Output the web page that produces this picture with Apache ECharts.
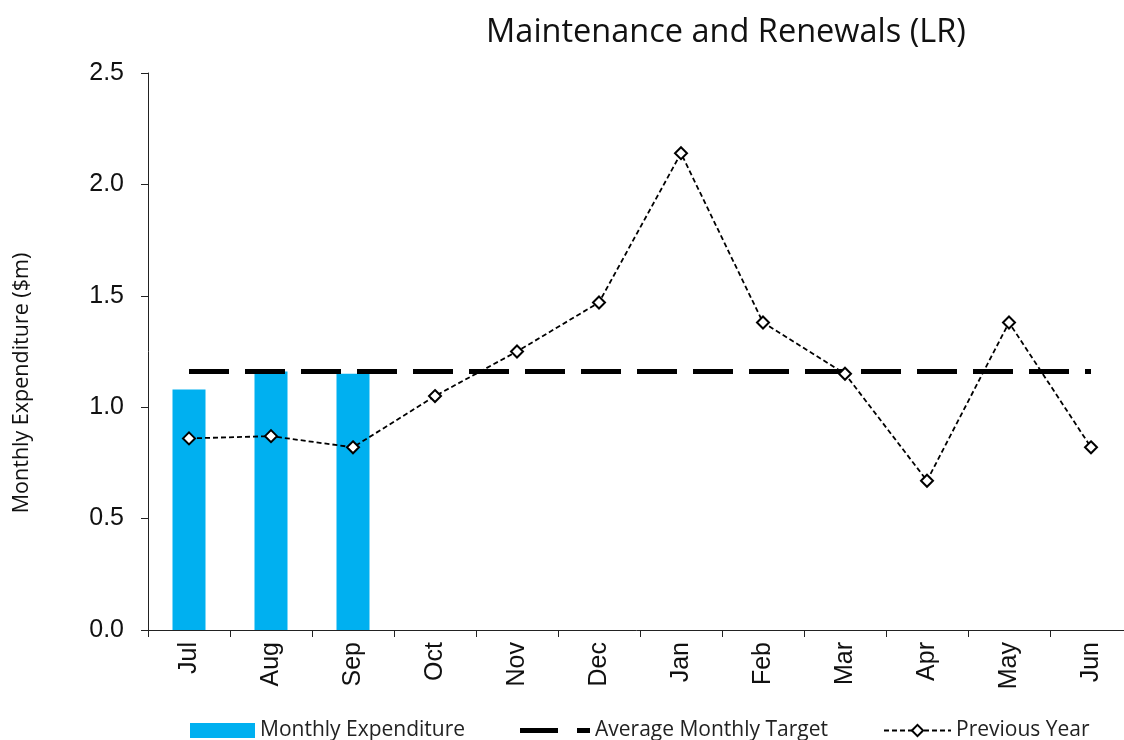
<!DOCTYPE html>
<html>
<head>
<meta charset="utf-8">
<title>Maintenance and Renewals (LR)</title>
<script src="https://cdn.jsdelivr.net/npm/echarts@6/dist/echarts.min.js"></script>
<style>
  html, body { margin: 0; padding: 0; background: #fff; }
  #chart { width: 1124px; height: 740px; }
</style>
</head>
<body>
<div id="chart"></div>
<script>
// categories and values
const months = ['Jul', 'Aug', 'Sep', 'Oct', 'Nov', 'Dec', 'Jan', 'Feb', 'Mar', 'Apr', 'May', 'Jun']
const monthlyExpenditure = [1.08, 1.16, 1.15]
const averageTarget = [1.16, 1.16, 1.16, 1.16, 1.16, 1.16, 1.16, 1.16, 1.16, 1.16, 1.16, 1.16]
const previousYear = [0.86, 0.87, 0.82, 1.05, 1.25, 1.47, 2.14, 1.38, 1.15, 0.67, 1.38, 0.82]
const yTicks = [0, 0.5, 1.0, 1.5, 2.0, 2.5]

const chart = echarts.init(document.getElementById('chart'))

// legend text style shared by the three legend blocks
const legendText = {
  fontFamily: '"Liberation Sans Narrow", "Open Sans", sans-serif',
  fontSize: 21,
  color: '#222',
}

chart.setOption({
  animation: false,
  title: {
    text: 'Maintenance and Renewals (LR)',
    left: 721,
    top: 11,
    textAlign: 'center',
    textStyle: {
      fontFamily: '"Open Sans", sans-serif',
      fontWeight: 'normal',
      fontSize: 32.5,
      color: '#111',
    },
  },
  // y axis title sits a bit below the middle of the axis in the original
  graphic: [
    {
      type: 'text',
      x: 22,
      y: 383,
      rotation: Math.PI / 2,
      style: {
        text: 'Monthly Expenditure ($m)',
        align: 'center',
        verticalAlign: 'middle',
        fontFamily: '"Open Sans", sans-serif',
        fontSize: 21.5,
        fill: '#111',
      },
    },
  ],
  grid: {
    left: 148,
    top: 73,
    width: 984,
    height: 557,
    outerBoundsMode: 'none',
  },
  xAxis: {
    type: 'category',
    data: months,
    axisLine: { lineStyle: { color: '#222', width: 1 } },
    axisTick: { show: true, length: 7, lineStyle: { color: '#222' } },
    axisLabel: {
      rotate: 90,
      margin: 12,
      fontFamily: '"Liberation Sans", Arial, sans-serif',
      fontSize: 25,
      color: '#111',
    },
  },
  yAxis: {
    type: 'value',
    min: yTicks[0],
    max: yTicks[yTicks.length - 1],
    interval: 0.5,
    axisLine: { show: true, lineStyle: { color: '#222', width: 1 } },
    axisTick: { show: true, length: 7, lineStyle: { color: '#222' } },
    splitLine: { show: false },
    axisLabel: {
      margin: 24,
      fontFamily: '"Liberation Sans", Arial, sans-serif',
      fontSize: 25,
      color: '#111',
      formatter: (v) => v.toFixed(1),
    },
  },
  legend: [
    {
      data: [{ name: 'Monthly Expenditure', icon: 'rect' }],
      left: 185,
      top: 715,
      itemWidth: 65,
      itemHeight: 15,
      itemGap: 10,
      textStyle: legendText,
    },
    {
      // thick dash followed by a short dot, like the reference key
      data: [{ name: 'Average Monthly Target', icon: 'path://M0,0H38V5H0Z M57,0H70V5H57Z' }],
      left: 515,
      top: 715,
      itemWidth: 70,
      itemHeight: 5,
      textStyle: legendText,
    },
    {
      data: ['Previous Year'],
      left: 878,
      top: 715,
      itemWidth: 67,
      itemHeight: 14,
      textStyle: legendText,
    },
  ],
  series: [
    {
      name: 'Monthly Expenditure',
      type: 'bar',
      data: monthlyExpenditure,
      barWidth: 33,
      itemStyle: { color: '#00B0F0' },
    },
    {
      name: 'Average Monthly Target',
      type: 'line',
      data: averageTarget,
      symbol: 'none',
      lineStyle: { color: '#000', width: 5, type: [40, 16] },
      itemStyle: { color: '#000' },
    },
    {
      name: 'Previous Year',
      type: 'line',
      data: previousYear,
      symbol: 'diamond',
      symbolSize: 12,
      lineStyle: { color: '#000', width: 1.8, type: [5, 3] },
      itemStyle: { color: '#fff', borderColor: '#000', borderWidth: 2 },
    },
  ],
})
</script>
</body>
</html>
